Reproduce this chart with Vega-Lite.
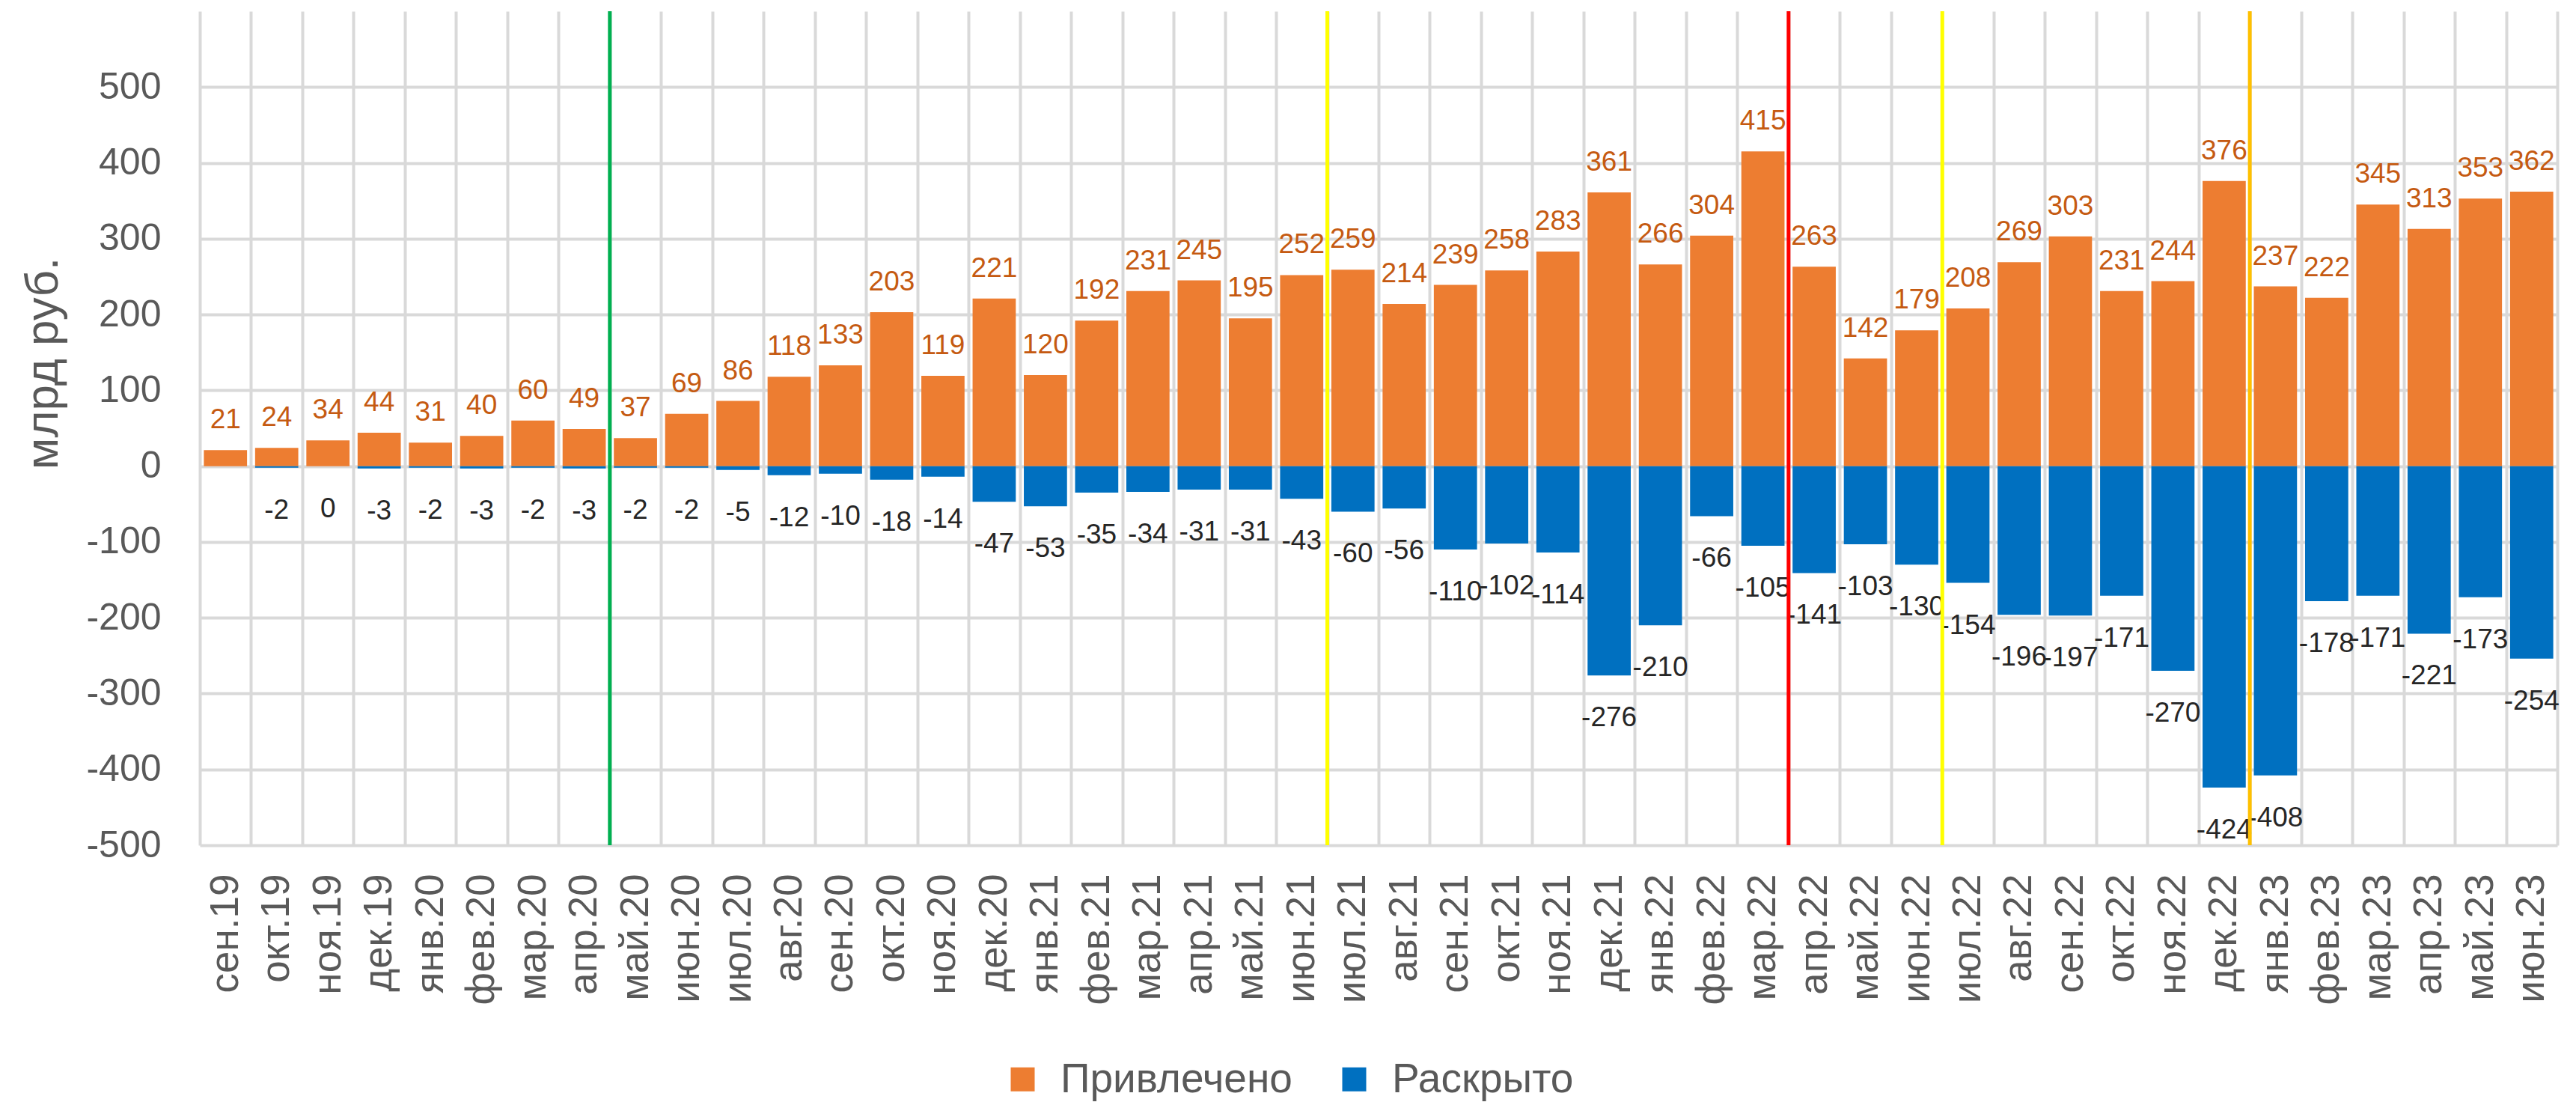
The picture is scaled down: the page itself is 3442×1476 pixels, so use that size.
{
  "$schema": "https://vega.github.io/schema/vega-lite/v6.json",
  "width": 3150,
  "height": 1114,
  "autosize": {"type": "none"},
  "padding": {"left": 267, "top": 15, "right": 25, "bottom": 347},
  "background": "white",
  "config": {"view": {"stroke": null}, "font": "Liberation Sans"},
  "datasets": {
    "bars": [
      {"m": "сен.19", "s": "Привлечено", "v": 21},
      {"m": "окт.19", "s": "Привлечено", "v": 24},
      {"m": "ноя.19", "s": "Привлечено", "v": 34},
      {"m": "дек.19", "s": "Привлечено", "v": 44},
      {"m": "янв.20", "s": "Привлечено", "v": 31},
      {"m": "фев.20", "s": "Привлечено", "v": 40},
      {"m": "мар.20", "s": "Привлечено", "v": 60},
      {"m": "апр.20", "s": "Привлечено", "v": 49},
      {"m": "май.20", "s": "Привлечено", "v": 37},
      {"m": "июн.20", "s": "Привлечено", "v": 69},
      {"m": "июл.20", "s": "Привлечено", "v": 86},
      {"m": "авг.20", "s": "Привлечено", "v": 118},
      {"m": "сен.20", "s": "Привлечено", "v": 133},
      {"m": "окт.20", "s": "Привлечено", "v": 203},
      {"m": "ноя.20", "s": "Привлечено", "v": 119},
      {"m": "дек.20", "s": "Привлечено", "v": 221},
      {"m": "янв.21", "s": "Привлечено", "v": 120},
      {"m": "фев.21", "s": "Привлечено", "v": 192},
      {"m": "мар.21", "s": "Привлечено", "v": 231},
      {"m": "апр.21", "s": "Привлечено", "v": 245},
      {"m": "май.21", "s": "Привлечено", "v": 195},
      {"m": "июн.21", "s": "Привлечено", "v": 252},
      {"m": "июл.21", "s": "Привлечено", "v": 259},
      {"m": "авг.21", "s": "Привлечено", "v": 214},
      {"m": "сен.21", "s": "Привлечено", "v": 239},
      {"m": "окт.21", "s": "Привлечено", "v": 258},
      {"m": "ноя.21", "s": "Привлечено", "v": 283},
      {"m": "дек.21", "s": "Привлечено", "v": 361},
      {"m": "янв.22", "s": "Привлечено", "v": 266},
      {"m": "фев.22", "s": "Привлечено", "v": 304},
      {"m": "мар.22", "s": "Привлечено", "v": 415},
      {"m": "апр.22", "s": "Привлечено", "v": 263},
      {"m": "май.22", "s": "Привлечено", "v": 142},
      {"m": "июн.22", "s": "Привлечено", "v": 179},
      {"m": "июл.22", "s": "Привлечено", "v": 208},
      {"m": "авг.22", "s": "Привлечено", "v": 269},
      {"m": "сен.22", "s": "Привлечено", "v": 303},
      {"m": "окт.22", "s": "Привлечено", "v": 231},
      {"m": "ноя.22", "s": "Привлечено", "v": 244},
      {"m": "дек.22", "s": "Привлечено", "v": 376},
      {"m": "янв.23", "s": "Привлечено", "v": 237},
      {"m": "фев.23", "s": "Привлечено", "v": 222},
      {"m": "мар.23", "s": "Привлечено", "v": 345},
      {"m": "апр.23", "s": "Привлечено", "v": 313},
      {"m": "май.23", "s": "Привлечено", "v": 353},
      {"m": "июн.23", "s": "Привлечено", "v": 362},
      {"m": "окт.19", "s": "Раскрыто", "v": -2},
      {"m": "ноя.19", "s": "Раскрыто", "v": 0},
      {"m": "дек.19", "s": "Раскрыто", "v": -3},
      {"m": "янв.20", "s": "Раскрыто", "v": -2},
      {"m": "фев.20", "s": "Раскрыто", "v": -3},
      {"m": "мар.20", "s": "Раскрыто", "v": -2},
      {"m": "апр.20", "s": "Раскрыто", "v": -3},
      {"m": "май.20", "s": "Раскрыто", "v": -2},
      {"m": "июн.20", "s": "Раскрыто", "v": -2},
      {"m": "июл.20", "s": "Раскрыто", "v": -5},
      {"m": "авг.20", "s": "Раскрыто", "v": -12},
      {"m": "сен.20", "s": "Раскрыто", "v": -10},
      {"m": "окт.20", "s": "Раскрыто", "v": -18},
      {"m": "ноя.20", "s": "Раскрыто", "v": -14},
      {"m": "дек.20", "s": "Раскрыто", "v": -47},
      {"m": "янв.21", "s": "Раскрыто", "v": -53},
      {"m": "фев.21", "s": "Раскрыто", "v": -35},
      {"m": "мар.21", "s": "Раскрыто", "v": -34},
      {"m": "апр.21", "s": "Раскрыто", "v": -31},
      {"m": "май.21", "s": "Раскрыто", "v": -31},
      {"m": "июн.21", "s": "Раскрыто", "v": -43},
      {"m": "июл.21", "s": "Раскрыто", "v": -60},
      {"m": "авг.21", "s": "Раскрыто", "v": -56},
      {"m": "сен.21", "s": "Раскрыто", "v": -110},
      {"m": "окт.21", "s": "Раскрыто", "v": -102},
      {"m": "ноя.21", "s": "Раскрыто", "v": -114},
      {"m": "дек.21", "s": "Раскрыто", "v": -276},
      {"m": "янв.22", "s": "Раскрыто", "v": -210},
      {"m": "фев.22", "s": "Раскрыто", "v": -66},
      {"m": "мар.22", "s": "Раскрыто", "v": -105},
      {"m": "апр.22", "s": "Раскрыто", "v": -141},
      {"m": "май.22", "s": "Раскрыто", "v": -103},
      {"m": "июн.22", "s": "Раскрыто", "v": -130},
      {"m": "июл.22", "s": "Раскрыто", "v": -154},
      {"m": "авг.22", "s": "Раскрыто", "v": -196},
      {"m": "сен.22", "s": "Раскрыто", "v": -197},
      {"m": "окт.22", "s": "Раскрыто", "v": -171},
      {"m": "ноя.22", "s": "Раскрыто", "v": -270},
      {"m": "дек.22", "s": "Раскрыто", "v": -424},
      {"m": "янв.23", "s": "Раскрыто", "v": -408},
      {"m": "фев.23", "s": "Раскрыто", "v": -178},
      {"m": "мар.23", "s": "Раскрыто", "v": -171},
      {"m": "апр.23", "s": "Раскрыто", "v": -221},
      {"m": "май.23", "s": "Раскрыто", "v": -173},
      {"m": "июн.23", "s": "Раскрыто", "v": -254}
    ],
    "events": [
      {"m": "май.20", "k": "e1"},
      {"m": "июл.21", "k": "e2"},
      {"m": "апр.22", "k": "e3"},
      {"m": "июл.22", "k": "e4"},
      {"m": "янв.23", "k": "e5"}
    ]
  },
  "layer": [
    {
      "data": {"name": "bars"},
      "mark": {"type": "bar", "width": {"band": 0.843}},
      "encoding": {
        "x": {
          "field": "m",
          "type": "ordinal",
          "scale": {
            "domain": ["сен.19","окт.19","ноя.19","дек.19","янв.20","фев.20","мар.20","апр.20","май.20","июн.20","июл.20","авг.20","сен.20","окт.20","ноя.20","дек.20","янв.21","фев.21","мар.21","апр.21","май.21","июн.21","июл.21","авг.21","сен.21","окт.21","ноя.21","дек.21","янв.22","фев.22","мар.22","апр.22","май.22","июн.22","июл.22","авг.22","сен.22","окт.22","ноя.22","дек.22","янв.23","фев.23","мар.23","апр.23","май.23","июн.23"],
            "paddingInner": 0,
            "paddingOuter": 0
          },
          "axis": {
            "title": null,
            "labelAngle": -90,
            "labelFontSize": 53,
            "labelColor": "#595959",
            "labelPadding": 38,
            "domain": false,
            "ticks": false,
            "grid": true,
            "tickBand": "extent",
            "gridColor": "#D9D9D9",
            "gridWidth": 4
          }
        },
        "y": {
          "field": "v",
          "type": "quantitative",
          "scale": {"domain": [-500, 600], "nice": false, "zero": false},
          "axis": {
            "title": "млрд руб.",
            "titleFontSize": 62,
            "titleFontWeight": "normal",
            "titleColor": "#595959",
            "titlePadding": 25,
            "titleY": 470,
            "values": [-500, -400, -300, -200, -100, 0, 100, 200, 300, 400, 500],
            "labelExpr": "'' + datum.value",
            "labelFontSize": 50,
            "labelColor": "#595959",
            "labelPadding": 52,
            "domain": false,
            "ticks": false,
            "gridColor": "#D9D9D9",
            "gridWidth": 4
          }
        },
        "color": {
          "field": "s",
          "type": "nominal",
          "scale": {"domain": ["Привлечено", "Раскрыто"], "range": ["#ED7D31", "#0070C0"]},
          "legend": {
            "title": null,
            "orient": "none",
            "direction": "horizontal",
            "legendX": 1072,
            "legendY": 1399,
            "padding": 0,
            "symbolType": "square",
            "symbolSize": 1024,
            "symbolStrokeWidth": 0,
            "labelFontSize": 55,
            "labelLimit": 800,
            "labelColor": "#595959",
            "labelOffset": 23,
            "columnPadding": 55
          }
        }
      }
    },
    {
      "data": {"name": "bars"},
      "transform": [{"filter": "datum.s === 'Привлечено'"}],
      "mark": {"type": "text", "dy": -29, "baseline": "alphabetic", "fontSize": 37, "color": "#C55A11"},
      "encoding": {
        "x": {"field": "m", "type": "ordinal"},
        "y": {"field": "v", "type": "quantitative"},
        "text": {"field": "v", "type": "nominal"}
      }
    },
    {
      "data": {"name": "bars"},
      "transform": [{"filter": "datum.s === 'Раскрыто'"}],
      "mark": {"type": "text", "dy": 68, "baseline": "alphabetic", "fontSize": 37, "color": "#262626"},
      "encoding": {
        "x": {"field": "m", "type": "ordinal"},
        "y": {"field": "v", "type": "quantitative"},
        "text": {"field": "v", "type": "nominal"}
      }
    },
    {
      "data": {"name": "events"},
      "mark": {"type": "rule", "strokeWidth": 5},
      "encoding": {
        "x": {"field": "m", "type": "ordinal", "bandPosition": 0},
        "stroke": {
          "field": "k",
          "type": "nominal",
          "scale": {"domain": ["e1", "e2", "e3", "e4", "e5"], "range": ["#00B050", "#FFFF00", "#FF0000", "#FFFF00", "#FFC000"]},
          "legend": null
        }
      }
    }
  ]
}
